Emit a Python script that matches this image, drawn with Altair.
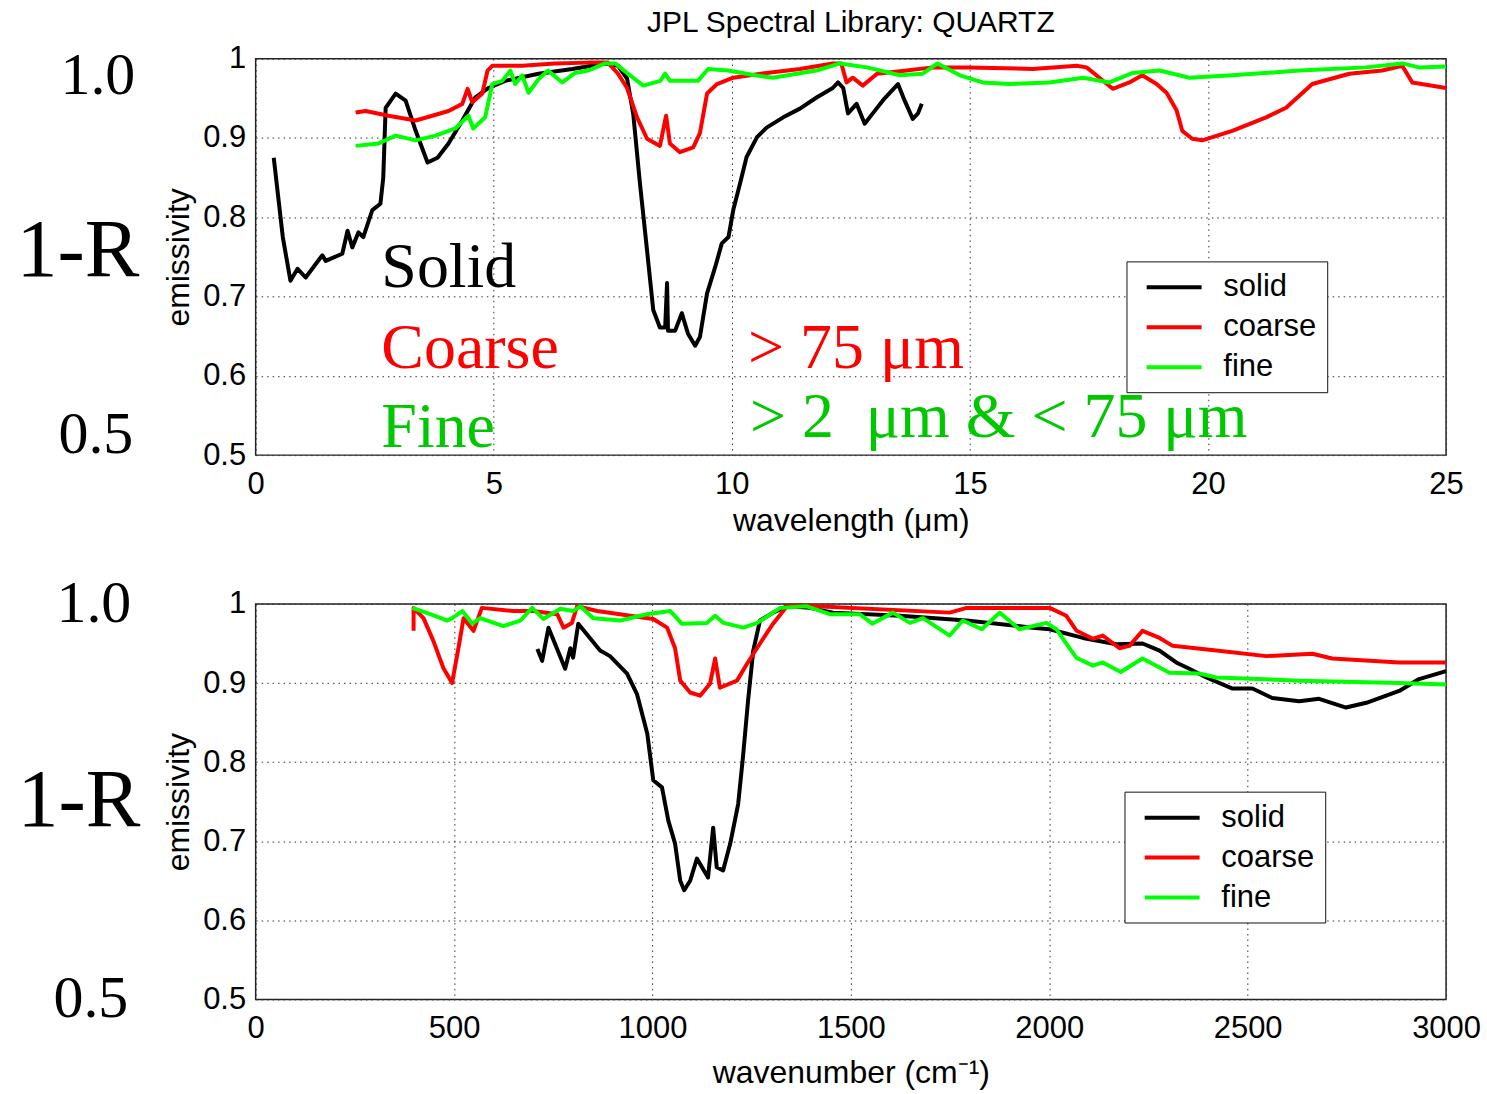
import altair as alt
import pandas as pd

SANS = "Liberation Sans"
SERIF = "Liberation Serif"

SERIES = ["solid", "coarse", "fine"]
COLORS = ["#000000", "#ff0000", "#00ff00"]

# ---------------- top panel: wavelength (um) ----------------
wl_solid_x = [0.38, 0.57, 0.73, 0.88, 1.05, 1.40, 1.47, 1.82, 1.93, 2.03, 2.16, 2.26, 2.45, 2.62, 2.68,
              2.73, 2.94, 3.15, 3.36, 3.61, 3.82, 4.05, 4.34, 4.61, 4.89, 5.24, 5.94, 6.65, 7.34, 7.61,
              7.80, 7.93, 8.07, 8.22, 8.35, 8.49, 8.60, 8.64, 8.66, 8.81, 8.95, 9.08, 9.23, 9.33, 9.48,
              9.65, 9.79, 9.93, 10.03, 10.17, 10.31, 10.53, 10.73, 11.08, 11.43, 11.78, 12.12, 12.23,
              12.34, 12.44, 12.62, 12.79, 12.96, 13.21, 13.49, 13.63, 13.80, 13.91, 13.99]
wl_solid_y = [0.875, 0.775, 0.72, 0.735, 0.724, 0.752, 0.745, 0.754, 0.783, 0.762, 0.781, 0.775, 0.809,
              0.817, 0.85, 0.938, 0.956, 0.947, 0.909, 0.869, 0.875, 0.893, 0.922, 0.951, 0.963, 0.972,
              0.981, 0.987, 0.994, 0.991, 0.975, 0.93, 0.843, 0.758, 0.683, 0.661, 0.661, 0.717, 0.657,
              0.657, 0.679, 0.653, 0.638, 0.649, 0.704, 0.737, 0.767, 0.775, 0.809, 0.842, 0.876, 0.901,
              0.913, 0.926, 0.937, 0.951, 0.963, 0.97, 0.963, 0.931, 0.943, 0.918, 0.931, 0.95, 0.968,
              0.947, 0.924, 0.931, 0.943]

wl_coarse_x = [2.10, 2.31, 2.79, 3.36, 3.71, 4.05, 4.34, 4.45, 4.55, 4.76, 4.87, 4.97, 5.60, 6.29, 6.98,
               7.40, 7.61, 7.80, 8.01, 8.22, 8.49, 8.62, 8.70, 8.91, 9.19, 9.33, 9.48, 9.69, 10.03, 10.73,
               11.43, 12.12, 12.30, 12.41, 12.54, 12.75, 13.05, 13.53, 14.22, 14.93, 16.32, 17.24, 17.45,
               17.72, 18.00, 18.35, 18.62, 18.92, 19.13, 19.34, 19.46, 19.67, 19.88, 20.51, 21.22, 21.64,
               22.19, 22.97, 23.66, 24.08, 24.29, 25.0]
wl_coarse_y = [0.932, 0.934, 0.928, 0.922, 0.928, 0.934, 0.943, 0.962, 0.945, 0.956, 0.985, 0.991, 0.991,
               0.994, 0.995, 0.995, 0.981, 0.963, 0.926, 0.899, 0.89, 0.928, 0.893, 0.882, 0.888, 0.906,
               0.956, 0.968, 0.976, 0.982, 0.987, 0.994, 0.994, 0.97, 0.976, 0.966, 0.981, 0.984, 0.989,
               0.989, 0.987, 0.991, 0.989, 0.976, 0.962, 0.97, 0.979, 0.968, 0.957, 0.935, 0.909, 0.899,
               0.897, 0.909, 0.926, 0.938, 0.968, 0.981, 0.985, 0.991, 0.97, 0.963]

wl_fine_x = [2.10, 2.58, 2.94, 3.36, 3.78, 4.19, 4.47, 4.57, 4.82, 4.97, 5.18, 5.35, 5.45, 5.60, 5.73,
             5.94, 6.14, 6.44, 6.71, 6.98, 7.34, 7.55, 7.82, 8.14, 8.50, 8.60, 8.70, 9.29, 9.50, 9.92,
             10.49, 10.86, 11.78, 12.27, 12.84, 13.53, 14.01, 14.32, 14.79, 15.27, 15.83, 16.67, 17.38,
             17.93, 18.42, 18.98, 19.61, 20.51, 21.92, 23.32, 24.08, 24.43, 25.0]
wl_fine_y = [0.89, 0.893, 0.903, 0.897, 0.903, 0.912, 0.928, 0.912, 0.926, 0.968, 0.972, 0.985, 0.968,
             0.979, 0.957, 0.974, 0.985, 0.97, 0.982, 0.985, 0.994, 0.994, 0.981, 0.966, 0.972, 0.981,
             0.972, 0.972, 0.987, 0.985, 0.979, 0.976, 0.985, 0.994, 0.989, 0.979, 0.981, 0.994, 0.979,
             0.97, 0.968, 0.97, 0.976, 0.97, 0.982, 0.985, 0.976, 0.979, 0.985, 0.989, 0.994, 0.989, 0.99]

# ---------------- bottom panel: wavenumber (cm-1) ----------------
wn_solid_x = [710, 722, 738, 780, 793, 800, 813, 868, 893, 936, 961, 987, 1002, 1024, 1040, 1057, 1070,
              1080, 1095, 1112, 1140, 1153, 1162, 1178, 1196, 1216, 1228, 1241, 1254, 1271, 1304, 1339,
              1397, 1455, 1624, 1792, 1958, 2001, 2085, 2169, 2235, 2278, 2320, 2353, 2396, 2462, 2512,
              2562, 2630, 2680, 2748, 2799, 2882, 2932, 3000]
wn_solid_y = [0.943, 0.928, 0.97, 0.918, 0.944, 0.932, 0.975, 0.941, 0.934, 0.912, 0.886, 0.836, 0.777,
              0.768, 0.726, 0.697, 0.65, 0.638, 0.65, 0.678, 0.654, 0.717, 0.667, 0.663, 0.697, 0.747,
              0.806, 0.878, 0.941, 0.979, 0.989, 0.997, 0.995, 0.989, 0.985, 0.979, 0.97, 0.968, 0.957,
              0.949, 0.95, 0.941, 0.926, 0.918, 0.907, 0.893, 0.893, 0.881, 0.877, 0.88, 0.869, 0.875,
              0.89, 0.905, 0.915]

wn_coarse_x = [398, 398, 423, 448, 473, 495, 511, 524, 549, 570, 650, 700, 760, 776, 797, 810, 861, 944,
               1002, 1037, 1057, 1070, 1095, 1120, 1145, 1158, 1170, 1213, 1238, 1271, 1304, 1339, 1372,
               1749, 1792, 2001, 2043, 2069, 2110, 2135, 2177, 2202, 2235, 2278, 2311, 2421, 2547, 2663,
               2713, 2882, 3000]
wn_coarse_y = [0.966, 0.995, 0.982, 0.953, 0.919, 0.9, 0.944, 0.982, 0.966, 0.995, 0.991, 0.991, 0.987,
               0.97, 0.976, 0.997, 0.991, 0.985, 0.981, 0.97, 0.944, 0.903, 0.888, 0.884, 0.899, 0.931,
               0.894, 0.903, 0.924, 0.95, 0.975, 0.997, 0.998, 0.989, 0.995, 0.995, 0.985, 0.966, 0.956,
               0.96, 0.944, 0.947, 0.966, 0.957, 0.947, 0.941, 0.934, 0.937, 0.931, 0.926, 0.926]

wn_fine_x = [395, 440, 483, 495, 521, 546, 566, 624, 667, 697, 725, 768, 800, 818, 851, 919, 986, 1045,
             1074, 1137, 1158, 1179, 1229, 1264, 1322, 1389, 1447, 1523, 1554, 1606, 1649, 1682, 1749,
             1782, 1830, 1875, 1925, 1993, 2018, 2040, 2068, 2110, 2135, 2180, 2235, 2303, 2378, 2421,
             2630, 2882, 3000]
wn_fine_y = [0.995, 0.987, 0.979, 0.982, 0.991, 0.975, 0.982, 0.972, 0.979, 0.995, 0.981, 0.994, 0.991,
             0.997, 0.982, 0.979, 0.987, 0.991, 0.975, 0.976, 0.985, 0.976, 0.97, 0.976, 0.995, 0.997,
             0.987, 0.987, 0.975, 0.989, 0.976, 0.982, 0.96, 0.979, 0.968, 0.989, 0.968, 0.976, 0.968,
             0.952, 0.932, 0.922, 0.926, 0.914, 0.931, 0.913, 0.912, 0.907, 0.903, 0.9, 0.898]

# ---------------- annotations ----------------
ann_text = ["Solid", "Coarse", "Fine", "> 75 \u03bcm", "> 2\u00a0 \u03bcm & < 75 \u03bcm"]
ann_x = [2.64, 2.64, 2.64, 10.34, 10.38]
ann_y = [0.712, 0.61, 0.51, 0.61, 0.523]
ann_color = ["#000000", "#ff0000", "#00c800", "#ff0000", "#00c800"]

side_text = ["1.0", "1-R", "0.5"]
side_y = [1.0, 0.75, 0.5]

Y_TICKS = [0.5, 0.6, 0.7, 0.8, 0.9, 1.0]


def long_df(xs_list, ys_list):
    frames = []
    for name, xs, ys in zip(SERIES, xs_list, ys_list):
        frames.append(pd.DataFrame({"series": name, "x": xs, "y": ys, "i": range(len(xs))}))
    return pd.concat(frames, ignore_index=True)


def panel(df, xdomain, xticks, xtitle, height, legend_xy, side_dx, side_dy, xtitle_pad, title=None):
    ycode = alt.Y("y:Q", scale=alt.Scale(domain=[0.5, 1.0], nice=False, zero=False),
                  axis=alt.Axis(values=Y_TICKS, format="~g", title="emissivity", titlePadding=7))
    lines = alt.Chart(df).mark_line(strokeWidth=4, strokeJoin="round").encode(
        x=alt.X("x:Q", scale=alt.Scale(domain=xdomain, nice=False, zero=False),
                axis=alt.Axis(values=xticks, format="d", title=xtitle, labelFlush=False,
                              labelPadding=14, titlePadding=xtitle_pad)),
        y=ycode,
        color=alt.Color("series:N", scale=alt.Scale(domain=SERIES, range=COLORS),
                        legend=alt.Legend(orient="none", legendX=legend_xy[0], legendY=legend_xy[1],
                                          title=None, symbolType="M-0.42,0H3.58", symbolStrokeWidth=4,
                                          symbolSize=756, labelFontSize=31, labelFont=SANS,
                                          labelColor="black", strokeColor="#111", fillColor="white",
                                          padding=10, rowPadding=9, labelOffset=55)),
        order=alt.Order("i:Q"),
    )
    layers = [lines]
    for txt, yv, dx, dy, fs in zip(side_text, side_y, side_dx, side_dy, [60, 82, 60]):
        d = pd.DataFrame({"y": [yv], "label": [txt]})
        layers.append(alt.Chart(d).mark_text(font=SERIF, fontSize=fs, color="black", align="center",
                                             baseline="middle", dy=dy).encode(
            x=alt.value(dx), y=alt.Y("y:Q"), text="label:N"))
    ch = alt.layer(*layers).properties(width=1192, height=height)
    if title is not None:
        ch = ch.properties(title=title)
    return ch


df_top = long_df([wl_solid_x, wl_coarse_x, wl_fine_x], [wl_solid_y, wl_coarse_y, wl_fine_y])
df_bot = long_df([wn_solid_x, wn_coarse_x, wn_fine_x], [wn_solid_y, wn_coarse_y, wn_fine_y])

top = panel(df_top, [0, 25], [0, 5, 10, 15, 20, 25], "wavelength (\u03bcm)", 397, (872, 203),
            [-158, -178, -160], [17, -6, -20], 6,
            title=alt.TitleParams("JPL Spectral Library: QUARTZ", font=SANS, fontSize=30,
                                  fontWeight="normal", color="black", anchor="middle", frame="group",
                                  offset=5))

ann_layers = []
for txt, ax, ay, col in zip(ann_text, ann_x, ann_y, ann_color):
    d = pd.DataFrame({"x": [ax], "y": [ay], "label": [txt]})
    ann_layers.append(alt.Chart(d).mark_text(font=SERIF, fontSize=64, color=col, align="left",
                                             baseline="alphabetic").encode(
        x="x:Q", y="y:Q", text="label:N"))
top = alt.layer(top, *ann_layers)

bottom = panel(df_bot, [0, 3000], [0, 500, 1000, 1500, 2000, 2500, 3000],
               "wavenumber (cm\u207b\u00b9)", 396, (870, 188),
               [-162, -177, -165], [0, -1, 0], 14)

chart = alt.vconcat(top, bottom, spacing=36).resolve_legend(color="independent").configure(
    padding={"left": 15, "top": 6, "right": 5, "bottom": 5}
).configure_axis(
    labelFont=SANS, labelFontSize=31, labelColor="black", titleFont=SANS, titleFontSize=32,
    titleFontWeight="normal", titleColor="black", grid=True, gridColor="#333333",
    gridDash=[1.5, 4], gridWidth=1, ticks=False, domain=False, labelPadding=10
).configure_view(stroke="#222222", strokeWidth=1.5)

chart.save("out.html", embed_options={"renderer": "svg", "actions": False})
